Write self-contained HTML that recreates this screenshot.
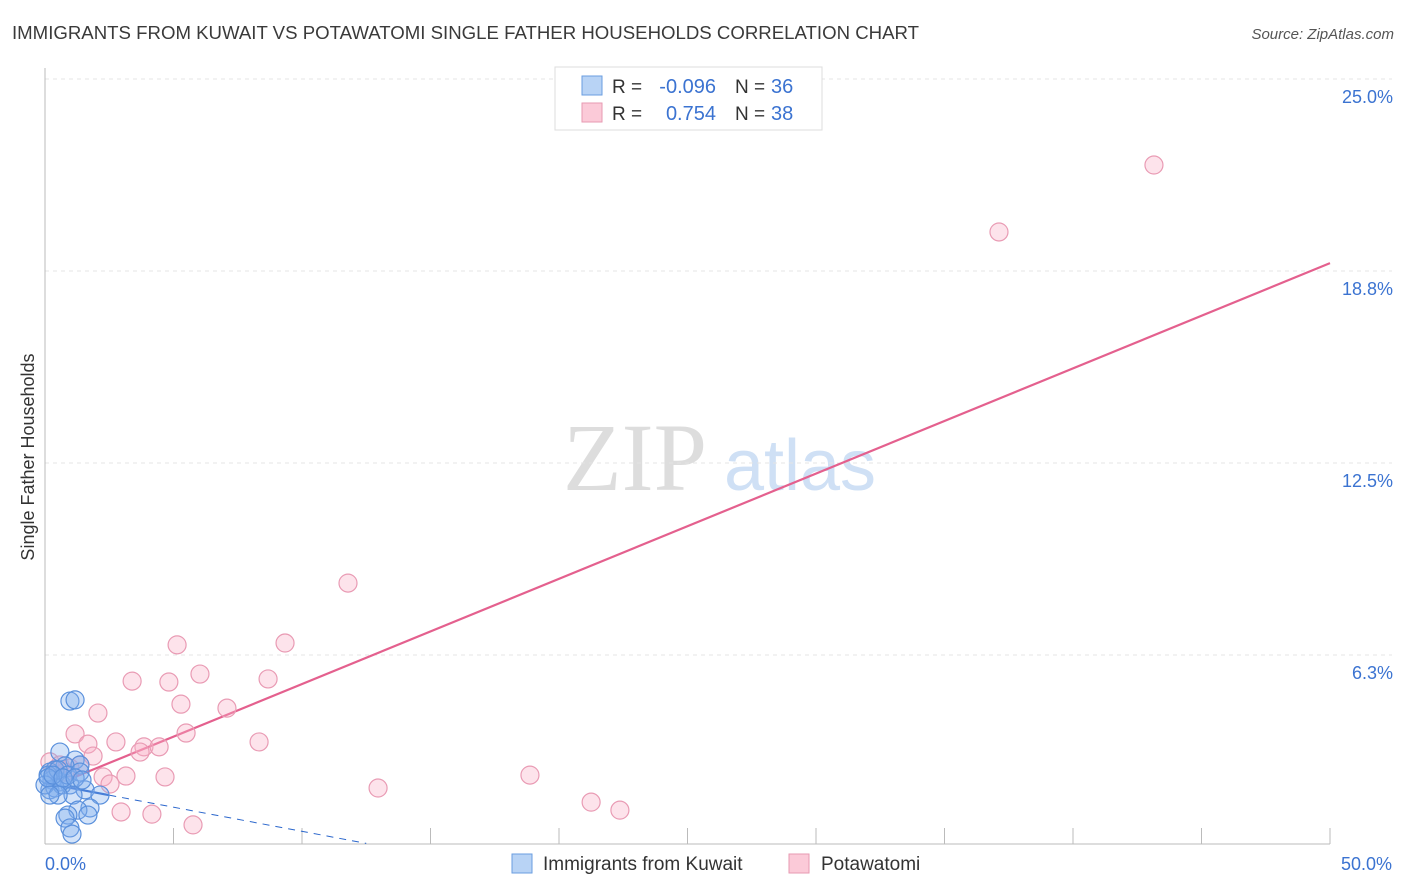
<!DOCTYPE html>
<html><head><meta charset="utf-8"><style>
body{margin:0;background:#fff;font-family:"Liberation Sans",sans-serif}
svg{display:block}
</style></head><body>
<svg id="chart" width="1406" height="892" xmlns="http://www.w3.org/2000/svg" font-family="Liberation Sans, sans-serif">
<text x="12" y="39" font-size="18" fill="#3a3a3a" textLength="907" lengthAdjust="spacingAndGlyphs">IMMIGRANTS FROM KUWAIT VS POTAWATOMI SINGLE FATHER HOUSEHOLDS CORRELATION CHART</text>
<text x="1394" y="39" font-size="15" fill="#555" text-anchor="end" font-style="italic">Source: ZipAtlas.com</text>
<text transform="translate(34,457) rotate(-90)" font-size="18" fill="#333" text-anchor="middle">Single Father Households</text>
<g>
<text x="635" y="490" font-size="96" fill="#ddd" text-anchor="middle" font-family="Liberation Serif, serif">ZIP</text>
<text x="800" y="490" font-size="72" fill="#cfe0f5" text-anchor="middle">atlas</text>
</g>
<g id="grid"></g><g id="axes"></g><g id="lines"></g><g id="points"></g>
<g>
<rect x="555" y="67" width="267" height="63" fill="#fff" stroke="#ddd"/>
<rect x="582" y="76" width="20" height="19" fill="#b8d3f5" stroke="#6a9ee0"/>
<rect x="582" y="103" width="20" height="19" fill="#fbcad8" stroke="#e79ab2"/>
<text x="612" y="93" font-size="19" fill="#333">R =</text>
<text x="716" y="93" font-size="20" fill="#3b73d1" text-anchor="end">-0.096</text>
<text x="735" y="93" font-size="19" fill="#333">N =</text>
<text x="771" y="93" font-size="20" fill="#3b73d1">36</text>
<text x="612" y="120" font-size="19" fill="#333">R =</text>
<text x="716" y="120" font-size="20" fill="#3b73d1" text-anchor="end">0.754</text>
<text x="735" y="120" font-size="19" fill="#333">N =</text>
<text x="771" y="120" font-size="20" fill="#3b73d1">38</text>
</g>
<g>
<rect x="512" y="854" width="20" height="19" fill="#b8d3f5" stroke="#6a9ee0"/>
<text x="543" y="870" font-size="19" fill="#333">Immigrants from Kuwait</text>
<rect x="789" y="854" width="20" height="19" fill="#fbcad8" stroke="#e79ab2"/>
<text x="821" y="870" font-size="19" fill="#333">Potawatomi</text>
</g>
</svg>
<script>
const xTicks=[0,5,10,15,20,25,30,35,40,45,50];
const yTicks=[6.25,12.5,18.75,25];
const yTickLabels=["6.3%","12.5%","18.8%","25.0%"];
const xEndLabels=["0.0%","50.0%"];
const kuwaitX=[0.97,1.17,0.58,1.17,1.36,0.78,0.39,0.19,0.27,0.58,0.97,0.19,0.39,0.66,0.12,1.56,2.14,1.09,1.75,1.28,0.89,1.67,0.78,0.97,1.05,0.51,0.89,1.36,0,0.12,0.31,0.70,1.17,1.44,0.51,0.19];
const kuwaitY=[4.75,4.79,3.09,2.83,2.67,2.64,2.51,2.44,2.18,2.12,2.02,1.86,1.92,2.02,2.34,1.86,1.69,1.69,1.27,1.20,1.04,1.04,0.94,0.62,0.42,2.51,2.34,2.44,2.02,2.25,2.34,2.25,2.25,2.18,1.69,1.69];
const potX=[43.15,37.12,11.79,5.14,9.34,3.39,6.03,4.82,8.68,5.29,7.08,2.06,1.17,5.49,2.76,8.33,3.85,4.44,1.67,1.87,3.70,3.15,4.67,2.26,18.87,12.96,2.53,21.25,22.37,2.96,4.16,5.76,0.19,0.58,0.97,1.36,0.39,0.78];
const potY=[22.20,20.02,8.59,6.58,6.64,5.40,5.63,5.37,5.47,4.65,4.52,4.36,3.68,3.71,3.42,3.42,3.26,3.26,3.35,2.96,3.09,2.31,2.28,2.28,2.34,1.92,2.05,1.46,1.20,1.14,1.07,0.72,2.77,2.67,2.57,2.67,2.51,2.44];
const kuwaitTrend=[2.08,-0.157];
const potTrend=[1.88,0.3425];
const NS="http://www.w3.org/2000/svg";
const X=v=>45+v/50*1285, Y=v=>847-v/6.25*192;
function mk(tag,attrs,parent){const e=document.createElementNS(NS,tag);for(const k in attrs)e.setAttribute(k,attrs[k]);document.getElementById(parent).appendChild(e);return e;}
yTicks.forEach((t,i)=>{
 const g=mk('line',{x1:45,x2:1392,y1:Y(t),y2:Y(t),stroke:'#e4e4e4','stroke-dasharray':'4,4'},'grid');
 
 
 const l=mk('text',{x:1393,y:Y(t)+24,'font-size':18,fill:'#3b73d1','text-anchor':'end'},'axes');
 l.textContent=yTickLabels[i];
 
 
});
const ax=mk('line',{x1:45,x2:45,y1:68,y2:844,stroke:'#bbb'},'axes');


const bx=mk('line',{x1:45,x2:1330,y1:844,y2:844,stroke:'#bbb'},'axes');


xTicks.forEach(t=>{
 const k=mk('line',{x1:X(t),x2:X(t),y1:828,y2:844,stroke:'#bbb'},'axes');
 
 
});
[[0,'start'],[50,'end']].forEach((p,i)=>{
 const l=mk('text',{x:X(p[0])+(i?62:0),y:870,'font-size':18,fill:'#3b73d1','text-anchor':i?'end':'start'},'axes');
 l.textContent=xEndLabels[i];
 
 
});
const pl=mk('line',{x1:X(1.09),y1:Y(potTrend[0]+potTrend[1]*1.09),x2:X(50),y2:Y(potTrend[0]+potTrend[1]*50),stroke:'#e4608e','stroke-width':2.2},'lines');


const kl=mk('line',{x1:X(0),y1:Y(kuwaitTrend[0]),x2:X(2.5),y2:Y(kuwaitTrend[0]+kuwaitTrend[1]*2.5),stroke:'#2a66cc','stroke-width':2.2},'lines');


const kd=mk('line',{x1:X(2.5),y1:Y(kuwaitTrend[0]+kuwaitTrend[1]*2.5),x2:X(12.5),y2:Y(kuwaitTrend[0]+kuwaitTrend[1]*12.5),stroke:'#2a66cc','stroke-width':1,'stroke-dasharray':'7,6'},'lines');


potX.forEach((v,i)=>{
 const c=mk('circle',{cx:X(v),cy:Y(potY[i]),r:9,fill:'rgba(248,175,198,0.35)',stroke:'#e99bb4','stroke-width':1.2},'points');
 
 
});
kuwaitX.forEach((v,i)=>{
 const c=mk('circle',{cx:X(v),cy:Y(kuwaitY[i]),r:9,fill:'rgba(130,175,238,0.35)',stroke:'#5a90dc','stroke-width':1.2},'points');
 
 
});
</script>
</body></html>
